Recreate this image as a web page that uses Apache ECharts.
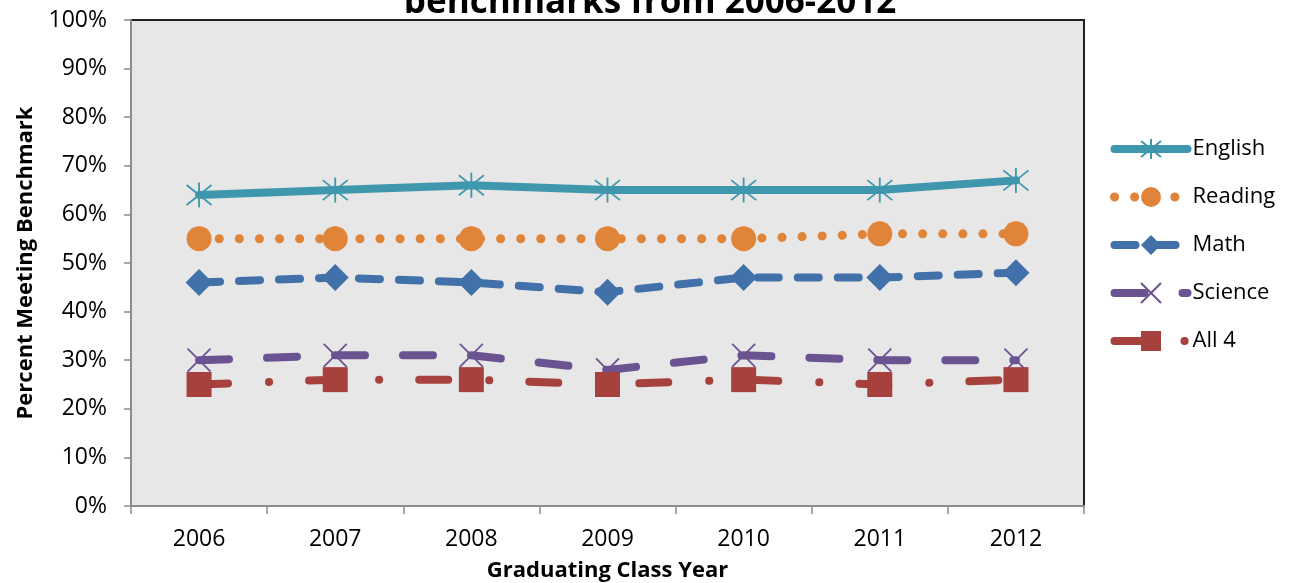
<!DOCTYPE html>
<html>
<head>
<meta charset="utf-8">
<script src="https://cdn.jsdelivr.net/npm/echarts@6/dist/echarts.min.js"></script>
<style>html,body{margin:0;padding:0;background:#fff}#c{width:1291px;height:583px}</style>
</head>
<body>
<div id="c"></div>
<script>
var years = ['2006','2007','2008','2009','2010','2011','2012'];
var english = [64, 65, 66, 65, 65, 65, 67];
var reading = [55, 55, 55, 55, 55, 56, 56];
var math    = [46, 47, 46, 44, 47, 47, 48];
var science = [30, 31, 31, 28, 31, 30, 30];
var all4    = [25, 26, 26, 25, 26, 25, 26];

var FONT = '"Open Sans", "Noto Sans", sans-serif';
var ASTER = 'path://M10,0 L10,20 M2,2 L18,18 M18,2 L2,18';
var XMARK = 'path://M0,0 L20,20 M20,0 L0,20';

function ser(name, data, color, lineType, width, symbol, size, stroked) {
  return {
    name: name, type: 'line', data: data,
    symbol: symbol, symbolSize: size,
    lineStyle: { color: color, width: width, type: lineType, cap: 'round', join: 'round' },
    itemStyle: stroked ? { color: 'rgba(0,0,0,0)', borderColor: color, borderWidth: 1.8 }
                       : { color: color, borderWidth: 0 },
    emphasis: { disabled: true },
    z: 2
  };
}

var chart = echarts.init(document.getElementById('c'), null, { renderer: 'canvas' });
chart.setOption({
  animation: false,
  backgroundColor: '#ffffff',
  title: {
    text: 'benchmarks from 2006-2012',
    left: 645, textAlign: 'center', top: -19,
    textStyle: { fontFamily: FONT, fontWeight: 'bold', fontSize: 35, color: '#000' }
  },
  grid: {
    left: 131, right: 207, top: 20, bottom: 77,
    outerBoundsMode: 'none',
    show: true, backgroundColor: '#e7e7e7', borderColor: '#222', borderWidth: 2
  },
  legend: {
    orient: 'vertical', left: 1110, top: 138, padding: 0,
    itemWidth: 73, itemHeight: 25, itemGap: 26,
    lineStyle: { width: 'inherit', type: 'inherit', cap: 'inherit' },
    textStyle: { fontFamily: FONT, fontSize: 22, color: '#000' },
    data: ['English','Reading','Math','Science','All 4']
  },
  xAxis: {
    type: 'category', data: years, boundaryGap: true,
    axisLine: { lineStyle: { color: '#8c8c8c', width: 2 } },
    axisTick: { show: true, length: 8, lineStyle: { color: '#8c8c8c', width: 1.5 } },
    axisLabel: { fontFamily: FONT, fontSize: 23, color: '#000', margin: 22 },
    name: 'Graduating Class Year', nameLocation: 'middle', nameGap: 54,
    nameTextStyle: { fontFamily: FONT, fontWeight: 'bold', fontSize: 22, color: '#000' }
  },
  yAxis: {
    type: 'value', min: 0, max: 100, interval: 10,
    axisLine: { show: true, lineStyle: { color: '#8c8c8c', width: 2 } },
    axisTick: { show: true, length: 7, lineStyle: { color: '#8c8c8c', width: 1.5 } },
    axisLabel: { fontFamily: FONT, fontSize: 23, color: '#000', margin: 24, formatter: '{value}%' },
    splitLine: { show: false },
    name: 'Percent Meeting Benchmark', nameLocation: 'middle', nameGap: 94,
    nameTextStyle: { fontFamily: FONT, fontWeight: 'bold', fontSize: 22, color: '#000' }
  },
  series: [
    ser('English', english, '#3f97ae', 'solid', 8, ASTER, 25, true),
    ser('Reading', reading, '#df8438', [0.1, 20], 9, 'circle', 25, false),
    ser('Math', math, '#4270a8', [21, 19], 8, 'diamond', 27, false),
    ser('Science', science, '#6b5391', [30, 38], 8, XMARK, 23, true),
    ser('All 4', all4, '#a6413d', [29, 41, 0.1, 40], 8, 'rect', 25, false)
  ]
});
</script>
</body>
</html>
